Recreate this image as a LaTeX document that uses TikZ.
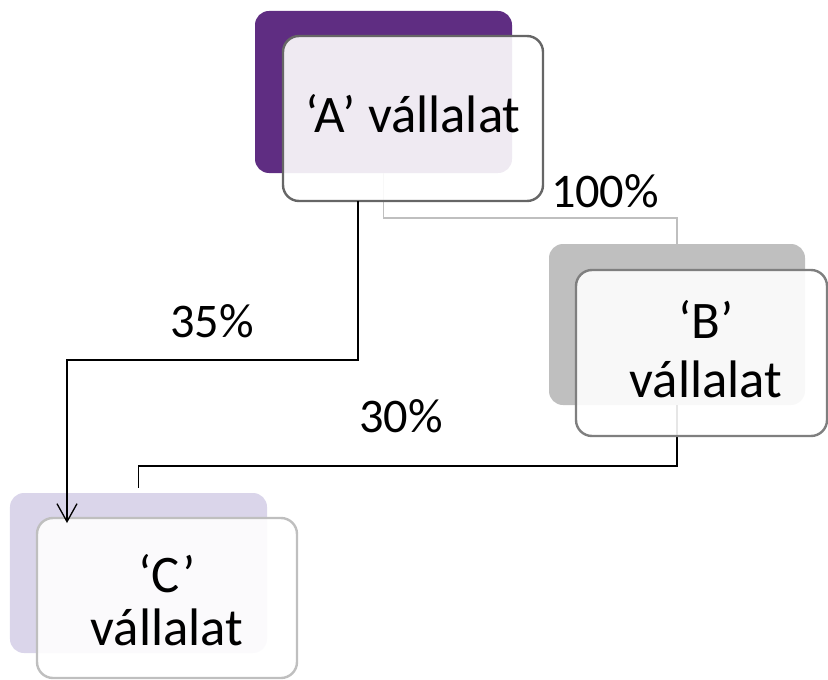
\documentclass[tikz,border=0pt]{standalone}
\usepackage{fontspec}
\setmainfont{Carlito}
\usetikzlibrary{arrows.meta}

\definecolor{purpleback}{HTML}{5F2D82}
\definecolor{grayback}{HTML}{BFBFBF}
\definecolor{lavback}{HTML}{DAD5EA}
\definecolor{borderdark}{HTML}{666666}
\definecolor{bordermid}{HTML}{7F7F7F}
\definecolor{borderlight}{HTML}{BFBFBF}
\definecolor{linkgray}{HTML}{BFBFBF}

\tikzset{
  backbox/.style={rectangle, rounded corners=14bp, inner sep=0pt, outer sep=0pt},
  frontbox/.style={rectangle, rounded corners=16bp, inner sep=0pt, outer sep=0pt,
    fill=white, fill opacity=0.9, draw opacity=1, line width=2.4bp},
  boxtext/.style={inner sep=0pt, align=center, anchor=base},
  pct/.style={inner sep=0pt, anchor=base, font=\fontsize{48.5}{56}\selectfont},
  blackline/.style={draw=black, line width=1.3bp},
  grayline/.style={draw=linkgray, line width=1.3bp},
}

\begin{document}
\begin{tikzpicture}[x=1bp, y=-1bp]
\useasboundingbox (0,0) rectangle (828,680);

% back plates
\node[backbox, fill=purpleback, minimum width=257bp, minimum height=162bp] (aback) at (383.5,92) {};
\node[backbox, fill=grayback, minimum width=256bp, minimum height=161bp] (bback) at (677,324.5) {};
\node[backbox, fill=lavback, minimum width=257bp, minimum height=160bp] (cback) at (138.5,573) {};

% connectors
\draw[grayline] (aback.south) -- ++(0,45) -| (bback.north);
\draw[blackline] (bback.south) -- ++(0,61) -| ([yshift=5bp]cback.north);

% front cards
\node[frontbox, draw=borderdark, minimum width=260bp, minimum height=165bp] (afront) at (413,118.5) {};
\node[frontbox, draw=bordermid, minimum width=251bp, minimum height=166bp] (bfront) at (701.5,353) {};
\node[frontbox, draw=borderlight, minimum width=260bp, minimum height=160bp] (cfront) at (167,598) {};

\draw[blackline, -{Straight Barb[length=18bp, width=20bp]}]
  ([xshift=-55bp]afront.south) -- ++(0,159) -| ([xshift=-100bp, yshift=-5bp]cfront.north);

% card texts (base anchor sits on the last line)
\node[boxtext, font=\fontsize{53}{59}\selectfont] (atext) at (413,133) {‘A’ vállalat};
\node[boxtext, font=\fontsize{53}{59}\selectfont] (btext) at (706,397) {‘B’\\vállalat};
\node[boxtext, font=\fontsize{53}{53}\selectfont] (ctext) at (167,645) {‘C’\\vállalat};

% percentages
\node[pct] (p100) at (605,207) {100\%};
\node[pct] (p35) at (212,337) {35\%};
\node[pct] (p30) at (401,432) {30\%};
\end{tikzpicture}
\end{document}
